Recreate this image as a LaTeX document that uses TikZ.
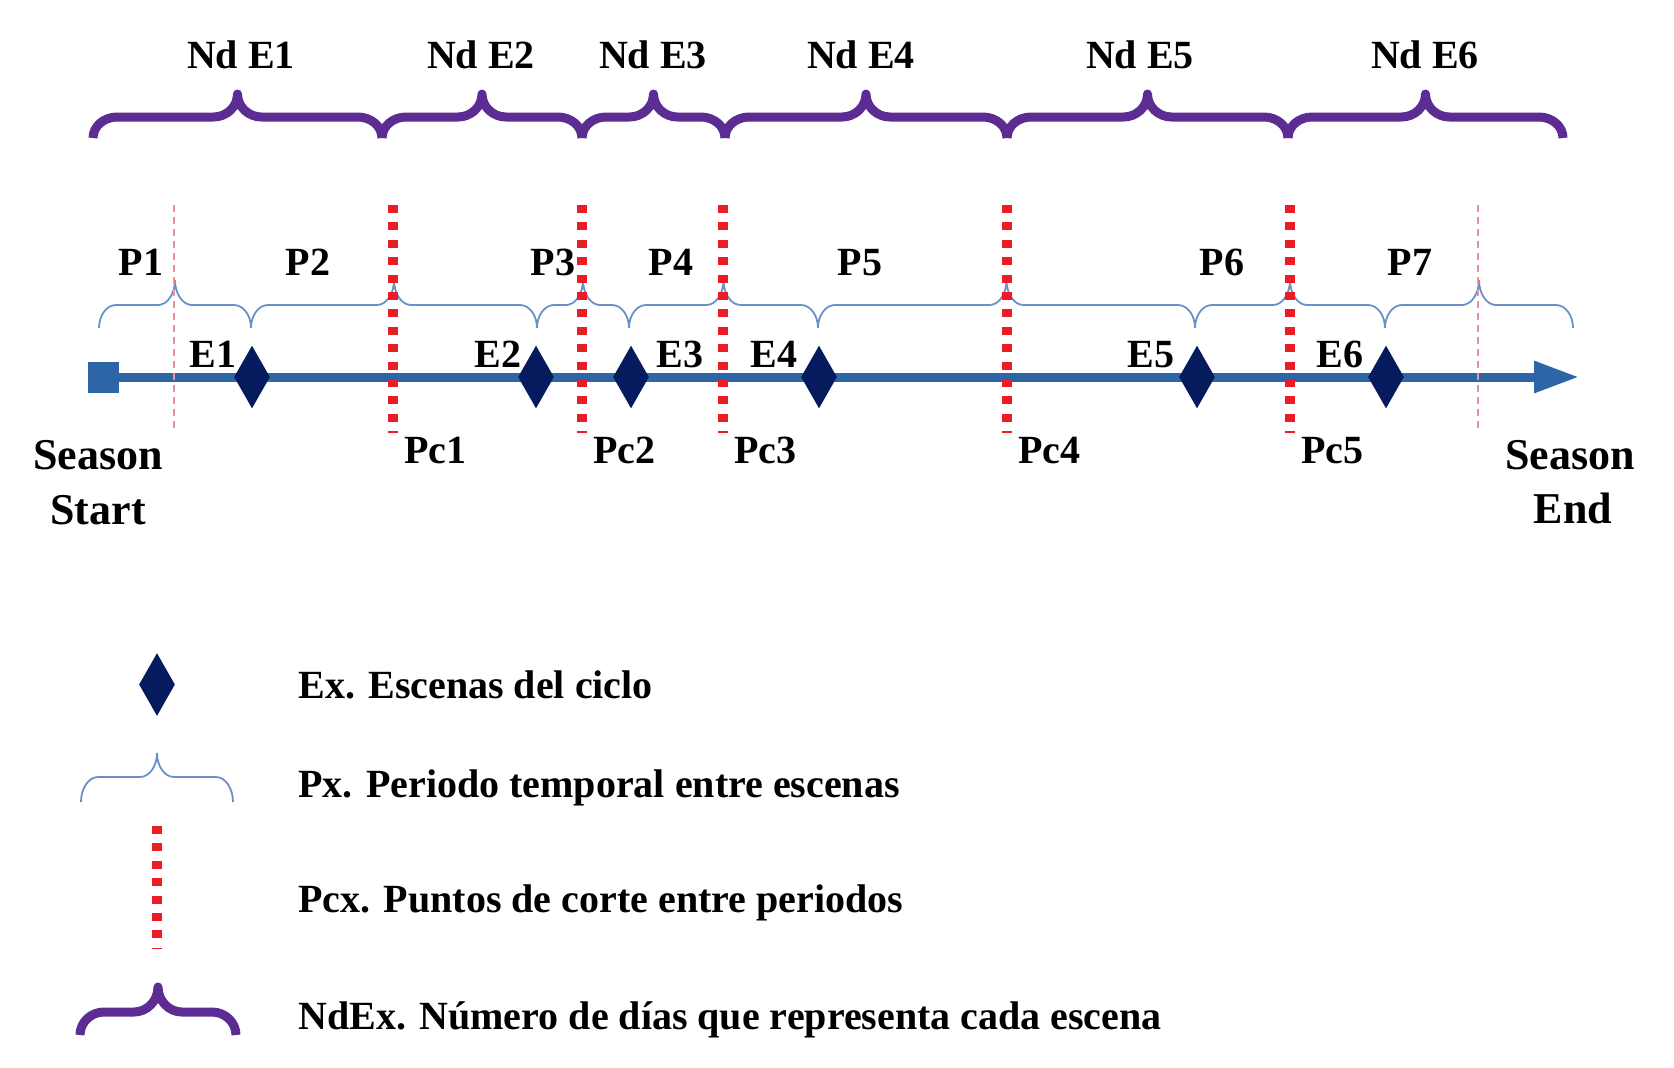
\documentclass[tikz,border=0pt]{standalone}
\usepackage{fontspec}
\setmainfont{Liberation Serif}
\usetikzlibrary{shapes.geometric,arrows.meta}

\definecolor{axisblue}{RGB}{46,101,166}
\definecolor{scenenavy}{RGB}{6,26,94}
\definecolor{ndpurple}{RGB}{92,44,146}
\definecolor{cutred}{RGB}{237,28,36}
\definecolor{periodblue}{RGB}{105,145,200}
\definecolor{softred}{RGB}{245,140,150}

\tikzset{
  lbl/.style={font=\bfseries\fontsize{20}{24}\selectfont, inner sep=0pt, anchor=base},
  biglbl/.style={font=\bfseries\fontsize{22}{27}\selectfont, inner sep=0pt, anchor=base},
  legtxt/.style={lbl, anchor=base west},
  scene/.style={diamond, fill=scenenavy, inner sep=0pt, minimum width=18pt, minimum height=31.5pt},
  startsq/.style={rectangle, fill=axisblue, inner sep=0pt, minimum size=15.5pt},
  ndbrace/.style={draw=ndpurple, line width=4.5pt, line join=round},
  pbrace/.style={draw=periodblue, line width=0.9pt},
  cutline/.style={draw=cutred, line width=5pt, dash pattern=on 4pt off 4.7pt},
  softcut/.style={draw=softred, line width=1.4pt, dash pattern=on 3.5pt off 2.5pt},
  axisline/.style={draw=axisblue, line width=4.5pt, -{Triangle[length=22.5pt,width=15pt]}},
}

% style, x1, x2, y tip, y middle, y ends, curve size
\newcommand{\timebrace}[7]{%
  \pgfmathsetmacro{\bracemid}{(#2+#3)/2}%
  \draw[#1] (#2,#6) .. controls (#2,{#5+0.45*(#6-#5)}) and (#2+0.45*#7,#5) .. (#2+#7,#5)
    -- (\bracemid-#7,#5) .. controls (\bracemid-0.45*#7,#5) and (\bracemid,{#5-0.45*(#5-#4)}) .. (\bracemid,#4)
    .. controls (\bracemid,{#5-0.45*(#5-#4)}) and (\bracemid+0.45*#7,#5) .. (\bracemid+#7,#5)
    -- (#3-#7,#5) .. controls (#3-0.45*#7,#5) and (#3,{#5+0.45*(#6-#5)}) .. (#3,#6);%
}

\begin{document}
\begin{tikzpicture}[x=0.5pt,y=-0.5pt]
  \useasboundingbox (0,0) rectangle (1674,1067);

  % days per scene
  \foreach \a/\b in {93/382,382/582,582/725,725/1007,1007/1288,1288/1563}
    {\timebrace{ndbrace}{\a}{\b}{94}{117}{138}{24}}
  \foreach \x/\n in {241/1,481/2,653/3,861/4,1140/5,1425/6}
    \node[lbl] (nd\n) at (\x,68) {Nd E\n};

  % periods
  \foreach \a/\b in {99/251,251/537,537/629,629/818,818/1195,1195/1385,1385/1573}
    {\timebrace{pbrace}{\a}{\b}{280}{305}{328}{17}}
  \foreach \x/\n in {141/1,308/2,553/3,671/4,860/5,1222/6,1410/7}
    \node[lbl] (p\n) at (\x,275) {P\n};

  % time axis
  \node[startsq] (start) at (103.5,377) {};
  \coordinate (end) at (1579,377);
  \draw[axisline] (start.east) -- (end);

  \foreach \x/\n in {252/1,536/2,631/3,819/4,1197/5,1386/6}
    \node[scene] (e\n) at (\x,377) {};
  \node[lbl] (elbl1) at (213,367) {E1};
  \node[lbl] (elbl2) at (498,367) {E2};
  \node[lbl] (elbl3) at (680,367) {E3};
  \node[lbl] (elbl4) at (774,367) {E4};
  \node[lbl] (elbl5) at (1151,367) {E5};
  \node[lbl] (elbl6) at (1340,367) {E6};

  % cut points
  \foreach \x/\n in {393/1,582/2,723/3,1007/4,1290/5} {
    \coordinate (pc\n) at (\x,205);
    \draw[cutline] (pc\n) -- ++(0,228);
    \node[lbl] (pclbl\n) at (\x+42.5,463) {Pc\n};
  }
  \draw[softcut] (174,205) -- (174,433);
  \draw[softcut] (1478,205) -- (1478,433);

  \node[biglbl] (ssa) at (98,469) {Season};
  \node[biglbl] (ssb) at (98,524) {Start};
  \node[biglbl] (sea) at (1570,469) {Season};
  \node[biglbl] (seb) at (1573,523) {End};

  % legend
  \node[scene] (legscene) at (157,684.5) {};
  \node[legtxt] (lege) at (298,698) {Ex. Escenas del ciclo};
  \timebrace{pbrace}{81}{233}{753}{777}{802}{17}
  \node[legtxt] (legp) at (298,797) {Px. Periodo temporal entre escenas};
  \draw[cutline] (157,826) -- (157,948);
  \node[legtxt] (legpc) at (298,912) {Pcx. Puntos de corte entre periodos};
  \timebrace{ndbrace}{80}{236}{987}{1012}{1035}{24}
  \node[legtxt] (legnd) at (298,1029) {NdEx. Número de días que representa cada escena};
\end{tikzpicture}
\end{document}
